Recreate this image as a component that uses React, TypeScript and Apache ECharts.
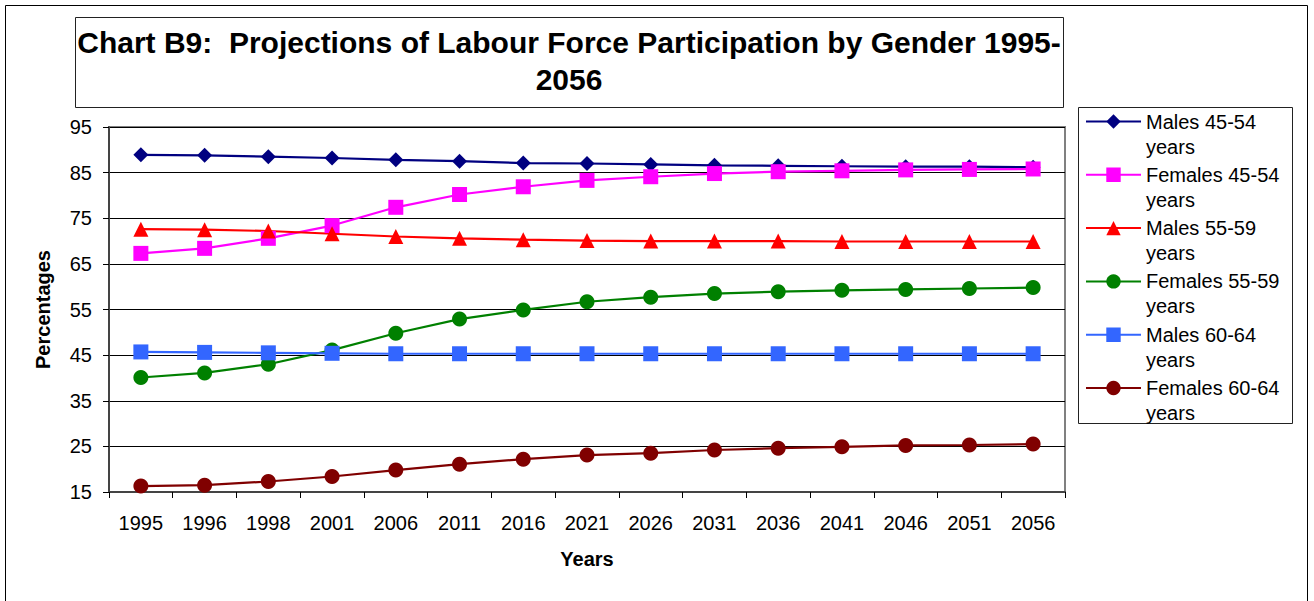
import React, { useEffect, useRef } from "react";
import * as echarts from "echarts";

const years = ["1995", "1996", "1998", "2001", "2006", "2011", "2016", "2021", "2026", "2031", "2036", "2041", "2046", "2051", "2056"];
const males4554 = [88.9, 88.8, 88.5, 88.2, 87.8, 87.5, 87.1, 87.0, 86.8, 86.6, 86.5, 86.4, 86.3, 86.3, 86.2];
const females4554 = [67.3, 68.4, 70.6, 73.4, 77.4, 80.2, 81.9, 83.3, 84.1, 84.8, 85.2, 85.4, 85.6, 85.7, 85.8];
const males5559 = [72.6, 72.5, 72.2, 71.6, 71.0, 70.6, 70.3, 70.1, 70.0, 70.0, 70.0, 69.9, 69.9, 69.9, 69.9];
const females5559 = [40.1, 41.1, 43.0, 46.1, 49.8, 52.9, 54.9, 56.7, 57.7, 58.5, 58.9, 59.2, 59.4, 59.6, 59.8];
const males6064 = [45.7, 45.6, 45.5, 45.4, 45.3, 45.3, 45.3, 45.3, 45.3, 45.3, 45.3, 45.3, 45.3, 45.3, 45.3];
const females6064 = [16.3, 16.5, 17.3, 18.4, 19.8, 21.1, 22.2, 23.1, 23.5, 24.2, 24.6, 24.9, 25.2, 25.3, 25.5];

const titleText = "Chart B9:  Projections of Labour Force Participation by Gender 1995-\n2056";
const FONT = "'Liberation Sans', Arial, sans-serif";

const seriesDefs = [
  { name: "Males 45-54 years", data: males4554, color: "#000080", symbol: "diamond", size: 15 },
  { name: "Females 45-54 years", data: females4554, color: "#FF00FF", symbol: "rect", size: 15 },
  { name: "Males 55-59 years", data: males5559, color: "#FF0000", symbol: "triangle", size: 15 },
  { name: "Females 55-59 years", data: females5559, color: "#008000", symbol: "circle", size: 15 },
  { name: "Males 60-64 years", data: males6064, color: "#3366FF", symbol: "rect", size: 15 },
  { name: "Females 60-64 years", data: females6064, color: "#800000", symbol: "circle", size: 15 },
];

export default function App() {
  const ref = useRef<HTMLDivElement>(null);
  useEffect(() => {
    if (!ref.current) return;
    const chart = echarts.init(ref.current, null, { renderer: "svg" });
    chart.setOption({
      animation: false,
      backgroundColor: "#ffffff",
      textStyle: { fontFamily: FONT },
      title: {
        text: titleText,
        left: 569,
        top: 24,
        textAlign: "center",
        padding: 0,
        textStyle: { fontFamily: FONT, fontSize: 30, fontWeight: "bold", color: "#000", lineHeight: 37 },
      },
      graphic: [
        { type: "rect", silent: true, z: -1, shape: { x: 5.5, y: 5.5, width: 1302, height: 700 }, style: { fill: "none", stroke: "#000", lineWidth: 1 } },
        { type: "rect", silent: true, shape: { x: 75.5, y: 17.5, width: 988, height: 90 }, style: { fill: "none", stroke: "#222", lineWidth: 1 } },
        { type: "rect", silent: true, shape: { x: 1078.5, y: 107.5, width: 214, height: 316 }, style: { fill: "none", stroke: "#222", lineWidth: 1 } },
      ],
      legend: {
        orient: "vertical",
        left: 1085,
        top: 84,
        padding: 0,
        itemGap: -21.7,
        itemWidth: 55,
        itemHeight: 18,
        lineStyle: { width: 2 },
        formatter: (name: string) => "\n" + name.replace(" years", "\nyears"),
        textStyle: { fontFamily: FONT, fontSize: 20, lineHeight: 25, color: "#000" },
        data: seriesDefs.map((s) => s.name),
      },
      grid: {
        left: 109,
        top: 127,
        right: 249,
        bottom: 109,
        show: true,
        borderColor: "#808080",
        borderWidth: 2,
        backgroundColor: "transparent",
      },
      xAxis: {
        type: "category",
        data: years,
        boundaryGap: true,
        name: "Years",
        nameLocation: "middle",
        nameGap: 57,
        nameTextStyle: { fontFamily: FONT, fontSize: 20, fontWeight: "bold", color: "#000" },
        axisLine: { show: true, lineStyle: { color: "#444", width: 2 } },
        axisTick: { show: true, length: 6, lineStyle: { color: "#000", width: 1 } },
        axisLabel: { interval: 0, fontFamily: FONT, fontSize: 20, color: "#000", margin: 21 },
        splitLine: { show: false },
      },
      yAxis: {
        type: "value",
        min: 15,
        max: 95,
        interval: 10,
        name: "Percentages",
        nameLocation: "middle",
        nameGap: 56,
        nameTextStyle: { fontFamily: FONT, fontSize: 20, fontWeight: "bold", color: "#000" },
        axisLine: { show: true, lineStyle: { color: "#444", width: 2 } },
        axisTick: { show: true, length: 6, lineStyle: { color: "#000", width: 1 } },
        axisLabel: { fontFamily: FONT, fontSize: 20, color: "#000", margin: 17 },
        splitLine: { show: true, lineStyle: { color: "#000", width: 1 } },
      },
      series: seriesDefs.map((s) => ({
        name: s.name,
        type: "line",
        data: s.data,
        symbol: s.symbol,
        symbolSize: s.size,
        showSymbol: true,
        color: s.color,
        lineStyle: { color: s.color, width: 2.2 },
        itemStyle: { color: s.color },
        emphasis: { disabled: true },
      })),
    });
    return () => chart.dispose();
  }, []);
  return <div ref={ref} style={{ position: "absolute", left: 0, top: 0, width: 1314, height: 601 }} />;
}
